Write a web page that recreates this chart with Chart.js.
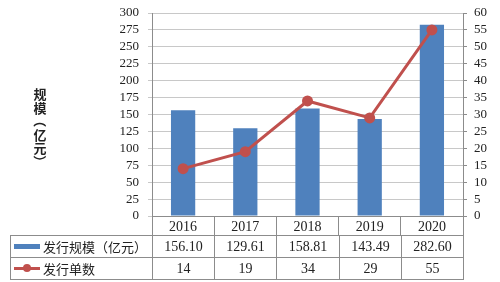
<!DOCTYPE html>
<html>
<head>
<meta charset="utf-8">
<script src="https://cdn.jsdelivr.net/npm/chart.js@4.4.0/dist/chart.umd.min.js"></script>
<style>
  body { margin: 0; background: #fff; }
  #wrap { position: relative; width: 500px; height: 282px; overflow: hidden; }
  #yTitle {
    position: absolute; left: 33px; top: 87px; width: 14px;
    font-family: "Noto Sans CJK SC"; font-weight: bold; font-size: 13px; color: #222;
    line-height: 13.5px; text-align: center;
  }
  #yTitle span { display: block; }
  #yTitle .rot { transform: rotate(90deg); }
  .cell {
    position: absolute; box-sizing: border-box; border: 1px solid #8c8c8c;
    font-family: "Liberation Serif", serif; font-size: 14px; color: #222;
    display: flex; align-items: center; justify-content: center;
  }
  .lab { justify-content: flex-start; font-family: "Noto Sans CJK SC"; font-size: 13px; }
</style>
</head>
<body>
<div id="wrap">
  <canvas id="myChart" width="500" height="282"></canvas>
  <div id="yTitle"><span>规</span><span>模</span><span class="rot">（</span><span>亿</span><span>元</span><span class="rot">）</span></div>
  <div id="table"></div>
</div>
<script>
"use strict";

// data
const years = ["2016", "2017", "2018", "2019", "2020"];
const scaleValues = [156.10, 129.61, 158.81, 143.49, 282.60];
const countValues = [14, 19, 34, 29, 55];
const scaleLabel = "发行规模（亿元）";
const countLabel = "发行单数";

const blue = "#4f81bd";
const red = "#c0504d";
let tableDone = false;

// draws the data table under the chart, lined up with the x columns
function buildTable(chart) {
  if (tableDone) return;
  tableDone = true;
  let area = chart.chartArea;
  let w = (area.right - area.left) / years.length;
  let tableEl = document.getElementById("table");
  let top = 235;
  let rowH = 22;
  let rows = [
    { label: scaleLabel, values: scaleValues.map(v => v.toFixed(2)), type: "bar" },
    { label: countLabel, values: countValues.map(v => String(v)), type: "line" },
  ];
  for (let r = 0; r < rows.length; r++) {
    let y = top + r * rowH;
    let labEl = document.createElement("div");
    labEl.className = "cell lab";
    labEl.style.left = "10px";
    labEl.style.top = y + "px";
    labEl.style.width = (area.left - 10 + 1) + "px";
    labEl.style.height = (rowH + 1) + "px";
    let key = document.createElement("span");
    key.style.display = "inline-block";
    key.style.position = "relative";
    key.style.width = "26px";
    key.style.marginLeft = "3px";
    key.style.marginRight = "3px";
    if (rows[r].type === "bar") {
      key.style.height = "5px";
      key.style.background = blue;
    } else {
      key.style.height = "3px";
      key.style.background = red;
      let dot = document.createElement("span");
      dot.style.position = "absolute";
      dot.style.left = "9px";
      dot.style.top = "-3px";
      dot.style.width = "8px";
      dot.style.height = "8px";
      dot.style.borderRadius = "50%";
      dot.style.background = red;
      key.appendChild(dot);
    }
    labEl.appendChild(key);
    labEl.appendChild(document.createTextNode(rows[r].label));
    tableEl.appendChild(labEl);
    for (let i = 0; i < years.length; i++) {
      let c = document.createElement("div");
      c.className = "cell";
      c.style.left = Math.round(area.left + i * w) + "px";
      c.style.top = y + "px";
      c.style.width = (Math.round(area.left + (i + 1) * w) - Math.round(area.left + i * w) + 1) + "px";
      c.style.height = (rowH + 1) + "px";
      c.textContent = rows[r].values[i];
      tableEl.appendChild(c);
    }
  }
}

const tablePlugin = {
  id: "tablePlugin",
  afterRender(chart) { buildTable(chart); },
};

const tickFont = { family: "Liberation Serif", size: 13 };

const config = {
  data: {
    labels: years,
    datasets: [
      {
        type: "line",
        label: countLabel,
        data: countValues,
        yAxisID: "y1",
        borderColor: red,
        backgroundColor: red,
        borderWidth: 3,
        pointRadius: 4,
        pointBackgroundColor: red,
        pointBorderColor: red,
        order: 0,
      },
      {
        type: "bar",
        label: scaleLabel,
        data: scaleValues,
        yAxisID: "y",
        backgroundColor: blue,
        categoryPercentage: 0.39,
        barPercentage: 1,
        order: 1,
      },
    ],
  },
  options: {
    responsive: false,
    animation: false,
    layout: { padding: { top: 13, right: 0, left: 0, bottom: 0 } },
    plugins: { legend: { display: false }, tooltip: { enabled: false } },
    scales: {
      x: {
        offset: true,
        grid: { offset: true, drawOnChartArea: false, drawTicks: true, tickLength: 19, color: "#8c8c8c" },
        border: { color: "#8c8c8c" },
        ticks: { font: { family: "Liberation Serif", size: 14 }, color: "#222", padding: -16 },
        afterFit(scale) { scale.height = 66; },
      },
      y: {
        position: "left",
        min: 0,
        max: 300,
        ticks: { stepSize: 25, autoSkip: false, font: tickFont, color: "#222", padding: 9 },
        grid: { color: "#c8c8c8", tickLength: 4 },
        border: { color: "#8c8c8c" },
        afterFit(scale) { scale.width = 152; scale.paddingTop = 0; },
      },
      y1: {
        position: "right",
        min: 0,
        max: 60,
        ticks: { stepSize: 5, autoSkip: false, font: tickFont, color: "#222", padding: 7 },
        grid: { drawOnChartArea: false, tickLength: 4, color: "#8c8c8c" },
        border: { color: "#8c8c8c" },
        afterFit(scale) { scale.width = 37; scale.paddingTop = 0; },
      },
    },
  },
  plugins: [tablePlugin],
};

const myChart = new Chart(document.getElementById("myChart"), config);
</script>
</body>
</html>
